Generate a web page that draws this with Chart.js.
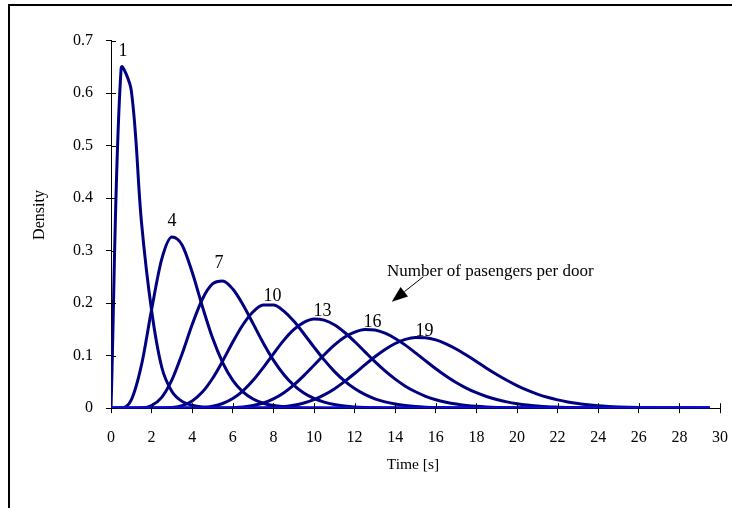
<!DOCTYPE html>
<html>
<head>
<meta charset="utf-8">
<script src="https://cdn.jsdelivr.net/npm/chart.js@4.4.1/dist/chart.umd.min.js"></script>
<style>
  html, body { margin: 0; padding: 0; background: #fff; }
  canvas { display: block; }
</style>
</head>
<body>
<canvas id="densityChart" width="732" height="508"></canvas>
<script>
// Time axis samples [s]
const times = [
  0, 0.5, 1, 1.5, 2, 2.5, 3, 3.5, 4, 4.5,
  5, 5.5, 6, 6.5, 7, 7.5, 8, 8.5, 9, 9.5,
  10, 10.5, 11, 11.5, 12, 12.5, 13, 13.5, 14, 14.5,
  15, 15.5, 16, 16.5, 17, 17.5, 18, 18.5, 19, 19.5,
  20, 20.5, 21, 21.5, 22, 22.5, 23, 23.5, 24, 24.5,
  25, 25.5, 26, 26.5, 27, 27.5, 28, 28.5, 29, 29.5
];

// Density, one array per number of passengers
const density1 = [
  0, 0.648, 0.605, 0.355, 0.186, 0.078, 0.032, 0.013, 0.0055, 0.0022,
  0.001, 0, 0, 0, 0, 0, 0, 0, 0, 0,
  0, 0, 0, 0, 0, 0, 0, 0, 0, 0,
  0, 0, 0, 0, 0, 0, 0, 0, 0, 0,
  0, 0, 0, 0, 0, 0, 0, 0, 0, 0,
  0, 0, 0, 0, 0, 0, 0, 0, 0, 0
];
const density4 = [
  0, 0.0005, 0.016, 0.082, 0.188, 0.284, 0.326, 0.311, 0.259, 0.194,
  0.134, 0.087, 0.053, 0.031, 0.0175, 0.0095, 0.005, 0.0026, 0.0013, 0.0006,
  0.0003, 0, 0, 0, 0, 0, 0, 0, 0, 0,
  0, 0, 0, 0, 0, 0, 0, 0, 0, 0,
  0, 0, 0, 0, 0, 0, 0, 0, 0, 0,
  0, 0, 0, 0, 0, 0, 0, 0, 0, 0
];
const density7 = [
  0, 0, 0, 0.0006, 0.0052, 0.0207, 0.0538, 0.1034, 0.1594, 0.2076,
  0.2366, 0.2422, 0.2269, 0.1972, 0.1611, 0.1243, 0.0916, 0.0648, 0.044, 0.029,
  0.0186, 0.0116, 0.007, 0.0042, 0.0024, 0.0014, 0.0008, 0.0004, 0.0002, 0,
  0, 0, 0, 0, 0, 0, 0, 0, 0, 0,
  0, 0, 0, 0, 0, 0, 0, 0, 0, 0,
  0, 0, 0, 0, 0, 0, 0, 0, 0, 0
];
const density10 = [
  0, 0, 0, 0, 0, 0.0002, 0.0013, 0.0049, 0.0138, 0.0307,
  0.0566, 0.0898, 0.1261, 0.159, 0.1837, 0.1964, 0.1965, 0.1854, 0.1659, 0.1419,
  0.1164, 0.092, 0.0702, 0.052, 0.0374, 0.0262, 0.0179, 0.012, 0.0079, 0.0051,
  0.0032, 0.002, 0.0012, 0.0007, 0.0004, 0.0002, 0, 0, 0, 0,
  0, 0, 0, 0, 0, 0, 0, 0, 0, 0,
  0, 0, 0, 0, 0, 0, 0, 0, 0, 0
];
const density13 = [
  0, 0, 0, 0, 0, 0, 0, 0, 0.0003, 0.0013,
  0.0037, 0.0089, 0.0183, 0.033, 0.0531, 0.0774, 0.1036, 0.1287, 0.1495, 0.1636,
  0.17, 0.1677, 0.159, 0.1447, 0.127, 0.1078, 0.0887, 0.071, 0.0553, 0.042,
  0.0313, 0.0227, 0.0162, 0.0114, 0.0078, 0.0053, 0.0035, 0.0023, 0.0015, 0.001,
  0.0006, 0.0004, 0.0002, 0, 0, 0, 0, 0, 0, 0,
  0, 0, 0, 0, 0, 0, 0, 0, 0, 0
];
const density16 = [
  0, 0, 0, 0, 0, 0, 0, 0, 0, 0,
  0.0001, 0.0003, 0.0009, 0.0022, 0.005, 0.0099, 0.0178, 0.0291, 0.044, 0.062,
  0.0818, 0.1017, 0.1201, 0.135, 0.1448, 0.15, 0.149, 0.1428, 0.1328, 0.1201,
  0.1054, 0.0901, 0.0752, 0.0614, 0.049, 0.0384, 0.0295, 0.0222, 0.0165, 0.012,
  0.0086, 0.0061, 0.0043, 0.0029, 0.002, 0.0013, 0.0009, 0.0006, 0.0004, 0.0002,
  0, 0, 0, 0, 0, 0, 0, 0, 0, 0
];
const density19 = [
  0, 0, 0, 0, 0, 0, 0, 0, 0, 0,
  0, 0, 0, 0, 0.0002, 0.0005, 0.0013, 0.0028, 0.0055, 0.0098,
  0.0163, 0.0253, 0.0368, 0.0507, 0.0661, 0.0824, 0.098, 0.1119, 0.1232, 0.131,
  0.1347, 0.1343, 0.1302, 0.1226, 0.1128, 0.1013, 0.089, 0.0762, 0.0643, 0.0533,
  0.0431, 0.0343, 0.0269, 0.0208, 0.0159, 0.0119, 0.0088, 0.0064, 0.0046, 0.0033,
  0.0023, 0.0016, 0.0011, 0.0008, 0.0005, 0.0004, 0.0002, 0.0002, 0.0001, 0.0001
];

// the thick blue line running along zero
const zeroTimes = [0, 29.5];
const zeroValues = [0, 0];

const passengers = ['1', '4', '7', '10', '13', '16', '19'];
const seriesValues = [density1, density4, density7, density10, density13, density16, density19];

// curve numbers, placed in data units (time, density)
const labelTimes = [0.59, 3.0, 5.32, 7.96, 10.42, 12.88, 15.44];
const labelDensities = [0.683, 0.359, 0.279, 0.217, 0.188, 0.168, 0.151];

const yTicks = [0, 0.1, 0.2, 0.3, 0.4, 0.5, 0.6, 0.7];
const xTicks = [0, 2, 4, 6, 8, 10, 12, 14, 16, 18, 20, 22, 24, 26, 28, 30];

const NAVY = '#000080';
const SERIF = '"Liberation Serif", "Times New Roman", serif';

function toPoints(xs, ys) {
    return xs.map((t, i) => ({ x: t, y: ys[i] }));
}

const datasets = [{
    label: 'zero',
    data: toPoints(zeroTimes, zeroValues),
    borderColor: '#0a0ae6',
    borderWidth: 3.5
}];
seriesValues.forEach((vals, i) => {
    datasets.push({
        label: passengers[i],
        data: toPoints(times, vals),
        borderColor: NAVY,
        borderWidth: 3,
        // the single-passenger curve uses a spreadsheet-like spline (kink after the peak)
        cubicInterpolationMode: i === 0 ? 'default' : 'monotone',
        tension: i === 0 ? 0.33 : 0
    });
});

// frame, inner tick marks, titles, curve numbers and the arrow note
const decorations = {
    id: 'decorations',
    beforeDraw(chart) {
        const c = chart.ctx;
        c.save();
        c.fillStyle = '#fff';
        c.fillRect(0, 0, chart.width, chart.height);
        c.fillStyle = '#000';
        c.fillRect(8, 4, chart.width - 8, 2);
        c.fillRect(8, 4, 2, chart.height - 4);
        c.restore();
    },
    afterDraw(chart) {
        const c = chart.ctx;
        const xs = chart.scales.x;
        const ys = chart.scales.y;
        const area = chart.chartArea;
        c.save();

        // tick marks crossing into the plot
        c.strokeStyle = '#000';
        c.lineWidth = 1;
        c.beginPath();
        yTicks.forEach(v => {
            const py = Math.round(ys.getPixelForValue(v)) + 0.5;
            c.moveTo(area.left, py);
            c.lineTo(area.left + 5, py);
        });
        xTicks.slice(1).forEach(v => {
            const px = Math.round(xs.getPixelForValue(v)) + 0.5;
            c.moveTo(px, area.bottom);
            c.lineTo(px, area.bottom - 5);
        });
        c.stroke();

        c.fillStyle = '#000';
        c.textAlign = 'center';
        c.textBaseline = 'middle';

        // axis titles
        c.font = '15.5px ' + SERIF;
        c.fillText('Time [s]', 413, 465);
        c.save();
        c.translate(40, 215);
        c.rotate(-Math.PI / 2);
        c.font = '16px ' + SERIF;
        c.fillText('Density', 0, 0);
        c.restore();

        // curve numbers
        c.font = '18px ' + SERIF;
        passengers.forEach((p, i) => {
            c.fillText(p, xs.getPixelForValue(labelTimes[i]), ys.getPixelForValue(labelDensities[i]) + 2);
        });

        // note with arrow
        c.font = '17px ' + SERIF;
        c.textAlign = 'left';
        c.fillText('Number of pasengers per door', xs.getPixelForValue(13.59), ys.getPixelForValue(0.263) + 1);

        const x0 = xs.getPixelForValue(15.39), y0 = ys.getPixelForValue(0.2506);
        const x1 = xs.getPixelForValue(13.83), y1 = ys.getPixelForValue(0.2029);
        const ang = Math.atan2(y1 - y0, x1 - x0);
        const headLen = 16, headHalf = 6;
        const bx = x1 - headLen * Math.cos(ang), by = y1 - headLen * Math.sin(ang);
        c.beginPath();
        c.moveTo(x0, y0);
        c.lineTo(bx, by);
        c.stroke();
        c.beginPath();
        c.moveTo(x1, y1);
        c.lineTo(bx + headHalf * Math.sin(ang), by - headHalf * Math.cos(ang));
        c.lineTo(bx - headHalf * Math.sin(ang), by + headHalf * Math.cos(ang));
        c.closePath();
        c.fill();

        c.restore();
    }
};

const ctx = document.getElementById('densityChart').getContext('2d');
const densityChart = new Chart(ctx, {
    type: 'line',
    data: { datasets: datasets },
    options: {
        responsive: false,
        animation: false,
        events: [],
        layout: { padding: { top: 40.7, right: 12, left: 0, bottom: 0 } },
        plugins: {
            legend: { display: false },
            tooltip: { enabled: false }
        },
        elements: {
            point: { radius: 0 },
            line: { borderJoinStyle: 'round', fill: false }
        },
        scales: {
            x: {
                type: 'linear',
                min: 0,
                max: 30,
                afterFit(scale) {
                    scale.height = 508 - 408.2;
                    scale.paddingLeft = 0;
                    scale.paddingRight = 0;
                },
                afterBuildTicks(scale) { scale.ticks = xTicks.map(v => ({ value: v })); },
                ticks: {
                    color: '#000',
                    font: { family: SERIF, size: 16 },
                    padding: 15,
                    maxRotation: 0,
                    autoSkip: false
                },
                grid: { drawOnChartArea: false, color: '#000', tickLength: 5 },
                border: { color: '#000', width: 1 }
            },
            y: {
                min: 0,
                max: 0.7,
                afterFit(scale) {
                    scale.width = 111;
                    scale.paddingTop = 0;
                    scale.paddingBottom = 0;
                },
                afterBuildTicks(scale) { scale.ticks = yTicks.map(v => ({ value: v })); },
                ticks: {
                    color: '#000',
                    font: { family: SERIF, size: 16 },
                    padding: 13,
                    callback: v => (v === 0 ? '0' : v.toFixed(1))
                },
                grid: { drawOnChartArea: false, color: '#000', tickLength: 5 },
                border: { color: '#000', width: 1 }
            }
        }
    },
    plugins: [decorations]
});
</script>
</body>
</html>
